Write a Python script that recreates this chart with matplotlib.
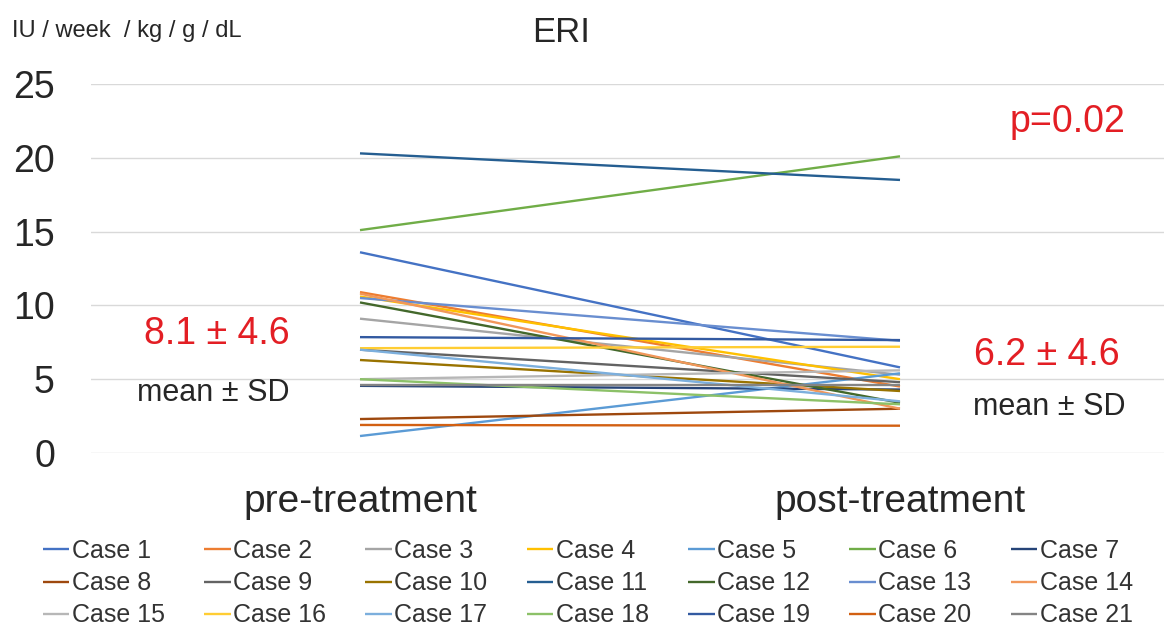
import matplotlib
matplotlib.use("Agg")
import matplotlib.pyplot as plt

plt.rcParams['font.family'] = ['Liberation Sans', 'DejaVu Sans']

# データ
cases = ["Case 1", "Case 2", "Case 3", "Case 4", "Case 5", "Case 6", "Case 7",
         "Case 8", "Case 9", "Case 10", "Case 11", "Case 12", "Case 13", "Case 14",
         "Case 15", "Case 16", "Case 17", "Case 18", "Case 19", "Case 20", "Case 21"]
pre = [13.6, 10.9, 9.1, 10.6, 1.15, 15.1, 4.55, 2.3, 7.0, 6.3, 20.3,
       10.2, 10.5, 10.8, 5.0, 7.1, 7.0, 5.0, 7.85, 1.9, 4.6]
post = [5.8, 4.5, 5.3, 5.0, 5.4, 20.1, 4.3, 3.0, 4.8, 4.2, 18.5,
        3.4, 7.6, 3.0, 5.6, 7.2, 3.5, 3.3, 7.65, 1.85, 4.6]
groups = ["pre-treatment", "post-treatment"]
yticks = [0, 5, 10, 15, 20, 25]

colors = ["#4472C4", "#ED7D31", "#A5A5A5", "#FFC000", "#5B9BD5", "#70AD47", "#264478",
          "#9E480E", "#636363", "#997300", "#255E91", "#43682B", "#698ED0", "#F1975A",
          "#B7B7B7", "#FFCD33", "#7CAFDD", "#8CC168", "#335AA1", "#D26012", "#848484"]

W, H = 1164, 637
fig = plt.figure(figsize=(W / 100, H / 100), dpi=100)
ax = fig.add_axes([91 / W, (H - 453) / H, (W - 91) / W, (453 - 84) / H])

handles = []
for i in range(len(cases)):
    ln, = ax.plot([0, 1], [pre[i], post[i]], color=colors[i], lw=1.7,
                  label=cases[i], solid_capstyle='butt')
    handles.append(ln)

ax.set_ylim(0, 25)
ax.set_xlim(-269 / 540, (W - 91 - 269) / 540)
ax.set_yticks(yticks)
ax.set_xticks([0, 1])
ax.set_xticklabels(groups)
ax.yaxis.grid(True, color="#D9D9D9", lw=1)
ax.set_axisbelow(True)
for s in ax.spines.values():
    s.set_visible(False)
ax.tick_params(axis='y', length=0, labelsize=27, pad=26, labelcolor="#262626")
ax.tick_params(axis='x', length=0, labelsize=28, pad=22, labelcolor="#262626")

# 凡例 (Excel風に行方向の並び)
order = []
for c in range(7):
    for r in range(3):
        order.append(r * 7 + c)
fig.legend([handles[k] for k in order], [cases[k] for k in order], ncol=7,
           loc='upper left', bbox_to_anchor=(42.7 / W, (H - 539) / H),
           frameon=False, fontsize=18, handlelength=1.07, handletextpad=0.1,
           columnspacing=1.56, labelspacing=0.33, borderpad=0, borderaxespad=0,
           labelcolor="#333333")

red = "#E31E24"
fig.text(12 / W, (H - 31) / H, "IU / week  / kg / g / dL", fontsize=17,
         ha='left', va='center', color="#262626")
fig.text(561 / W, (H - 33) / H, "ERI", fontsize=25, ha='center', va='center',
         color="#262626")
fig.text(217 / W, (H - 334) / H, "8.1 ± 4.6", fontsize=27, ha='center', va='center', color=red)
fig.text(213 / W, (H - 393) / H, "mean ± SD", fontsize=22, ha='center', va='center', color="#262626")
fig.text(1047 / W, (H - 355) / H, "6.2 ± 4.6", fontsize=27, ha='center', va='center', color=red)
fig.text(1049 / W, (H - 407) / H, "mean ± SD", fontsize=22, ha='center', va='center', color="#262626")
fig.text(1068 / W, (H - 122) / H, "p=0.02", fontsize=27, ha='center', va='center', color=red)

fig.savefig("out.png", dpi=100)
